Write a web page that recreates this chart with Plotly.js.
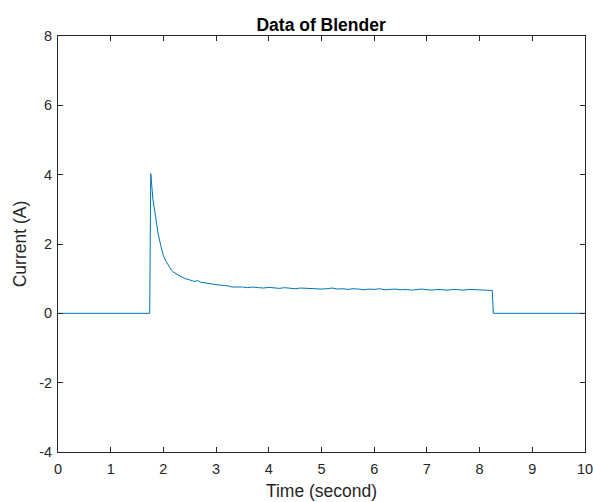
<!DOCTYPE html>
<html>
<head>
<meta charset="utf-8">
<script src="https://cdn.plot.ly/plotly-3.0.1.min.js"></script>
<style>html,body{margin:0;padding:0;background:#fff;}#chart{width:593px;height:502px;}</style>
</head>
<body>
<div id="chart"></div>
<script>
var timeSec = [0, 1.74, 1.76, 1.80, 1.85, 1.90, 1.95, 2.00, 2.05, 2.10, 2.15, 2.20, 2.25, 2.30, 2.35, 2.40, 2.45, 2.50, 2.55, 2.60, 2.65, 2.70, 2.80, 2.90, 3.00, 3.10, 3.20, 3.30, 3.40, 3.50, 3.60, 3.70, 3.80, 3.90, 4.00, 4.10, 4.20, 4.30, 4.40, 4.50, 4.60, 4.70, 4.80, 4.90, 5.00, 5.10, 5.20, 5.30, 5.40, 5.50, 5.60, 5.70, 5.80, 5.90, 6.00, 6.10, 6.20, 6.30, 6.40, 6.50, 6.60, 6.70, 6.80, 6.90, 7.00, 7.10, 7.20, 7.30, 7.40, 7.50, 7.60, 7.70, 7.80, 7.90, 8.00, 8.10, 8.20, 8.24, 8.26, 10];
var currentA = [0, 0, 4.03, 3.30, 2.80, 2.30, 1.95, 1.66, 1.50, 1.36, 1.25, 1.18, 1.13, 1.08, 1.05, 1.01, 0.98, 0.96, 0.94, 0.92, 0.95, 0.90, 0.87, 0.84, 0.83, 0.81, 0.80, 0.76, 0.77, 0.76, 0.74, 0.76, 0.74, 0.73, 0.75, 0.73, 0.72, 0.74, 0.72, 0.71, 0.73, 0.72, 0.71, 0.72, 0.70, 0.71, 0.73, 0.70, 0.71, 0.69, 0.71, 0.70, 0.68, 0.70, 0.69, 0.71, 0.68, 0.69, 0.70, 0.68, 0.69, 0.67, 0.68, 0.70, 0.68, 0.67, 0.69, 0.68, 0.67, 0.69, 0.68, 0.67, 0.69, 0.68, 0.67, 0.68, 0.66, 0.66, 0, 0];
var xTicks = [0,1,2,3,4,5,6,7,8,9,10];
var yTicks = [-4,-2,0,2,4,6,8];

var FONT = 'Liberation Sans, Arial, Helvetica, sans-serif';
var axisCommon = {
  showgrid: false, zeroline: false, showline: true, mirror: 'ticks',
  linecolor: '#262626', linewidth: 1, ticks: 'inside', ticklen: 5,
  tickcolor: '#262626', ticklabeloverflow: 'allow',
  tickfont: {family: FONT, size: 14.5, color: '#262626'}
};
var layout = {
  width: 593, height: 502,
  margin: {l: 58, r: 8, t: 36, b: 50},
  paper_bgcolor: '#ffffff', plot_bgcolor: '#ffffff',
  showlegend: false,
  title: {text: '<b>Data of Blender</b>', x: 0.5415, xanchor: 'center', yref: 'container', y: 0.951, yanchor: 'middle',
          font: {family: FONT, size: 17.5, color: '#000'}},
  xaxis: Object.assign({}, axisCommon, {range: [0, 10], tickvals: xTicks, ticktext: xTicks.map(String),
          ticklabelstandoff: 4,
          title: {text: 'Time (second)', standoff: 8, font: {family: FONT, size: 17.5, color: '#262626'}}}),
  yaxis: Object.assign({}, axisCommon, {range: [-4, 8], tickvals: yTicks, ticktext: yTicks.map(String),
          ticklabelstandoff: 2,
          title: {text: 'Current (A)', standoff: 8, font: {family: FONT, size: 17.5, color: '#262626'}}})
};
Plotly.newPlot('chart', [{
  x: timeSec, y: currentA, type: 'scatter', mode: 'lines',
  line: {color: '#0072BD', width: 1}
}], layout, {staticPlot: true, displayModeBar: false});
</script>
</body>
</html>
